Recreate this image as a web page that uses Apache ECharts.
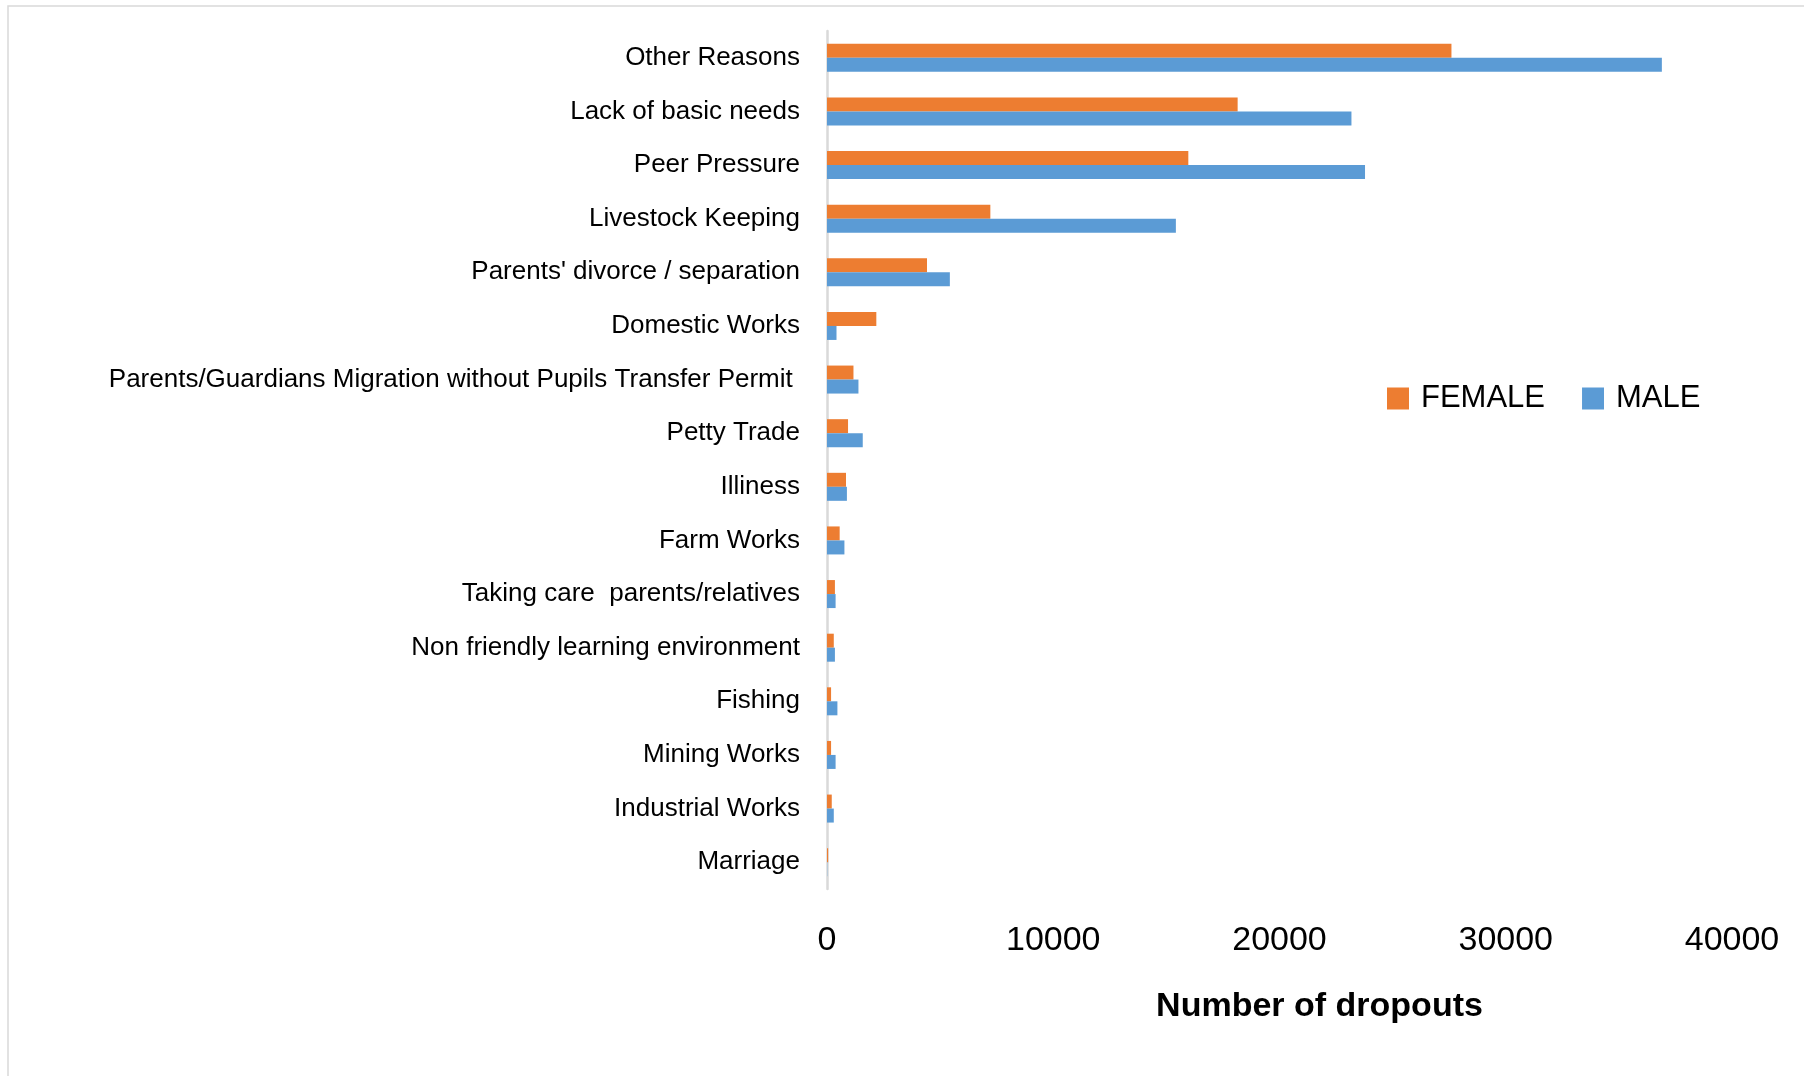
<!DOCTYPE html>
<html>
<head>
<meta charset="utf-8">
<script src="https://cdn.jsdelivr.net/npm/echarts@6/dist/echarts.min.js"></script>
<style>
html,body{margin:0;padding:0;background:#fff;}
#chart{width:1804px;height:1076px;}
</style>
</head>
<body>
<div id="chart"></div>
<script>
const categories = [
  "Other Reasons",
  "Lack of basic needs",
  "Peer Pressure",
  "Livestock Keeping",
  "Parents' divorce / separation",
  "Domestic Works",
  "Parents/Guardians Migration without Pupils Transfer Permit ",
  "Petty Trade",
  "Illiness",
  "Farm Works",
  "Taking care  parents/relatives",
  "Non friendly learning environment",
  "Fishing",
  "Mining Works",
  "Industrial Works",
  "Marriage"
];
const female = [27600, 18150, 15970, 7220, 4420, 2180, 1170, 930, 840, 560, 350, 300, 180, 180, 210, 50];
const male   = [36900, 23180, 23780, 15420, 5430, 420, 1390, 1580, 880, 770, 380, 350, 460, 380, 300, 10];
const xTicks = { min: 0, max: 40000, interval: 10000 };

const chart = echarts.init(document.getElementById('chart'), null, { renderer: 'canvas' });
const FONT = "'Liberation Sans', Arial, sans-serif";
chart.setOption({
  animation: false,
  backgroundColor: '#ffffff',
  graphic: [{
    type: 'rect',
    shape: { x: 8, y: 6, width: 1820, height: 1100 },
    style: { fill: 'none', stroke: '#d9d9d9', lineWidth: 1.5 },
    silent: true
  }],
  grid: { left: 827, right: 72, top: 31, height: 858, containLabel: false },
  legend: {
    data: ['FEMALE', 'MALE'],
    left: 1382, top: 378,
    itemWidth: 22, itemHeight: 22, itemGap: 37,
    icon: 'rect',
    textStyle: { fontFamily: FONT, fontSize: 31, color: '#000', padding: [0, 0, 0, 7] }
  },
  xAxis: {
    type: 'value',
    min: xTicks.min, max: xTicks.max, interval: xTicks.interval,
    axisLine: { show: false }, axisTick: { show: false },
    splitLine: { show: false },
    axisLabel: { fontFamily: FONT, fontSize: 34, color: '#000', margin: 35, formatter: function (v) { return String(v); } },
    name: 'Number of dropouts',
    nameLocation: 'middle',
    nameGap: 101,
    nameTextStyle: { fontFamily: FONT, fontSize: 34, fontWeight: 'bold', color: '#000', padding: [0, 0, 0, 80] }
  },
  yAxis: {
    type: 'category',
    data: categories,
    inverse: true,
    axisLine: { show: true, lineStyle: { color: '#d9d9d9', width: 2.5 } },
    axisTick: { show: false },
    axisLabel: { fontFamily: FONT, fontSize: 26, color: '#000', margin: 27 }
  },
  series: [
    { name: 'FEMALE', type: 'bar', data: female, itemStyle: { color: '#ED7D31' }, barWidth: 14, barGap: '0%' },
    { name: 'MALE', type: 'bar', data: male, itemStyle: { color: '#5B9BD5' }, barWidth: 14, barGap: '0%' }
  ]
});
</script>
</body>
</html>
